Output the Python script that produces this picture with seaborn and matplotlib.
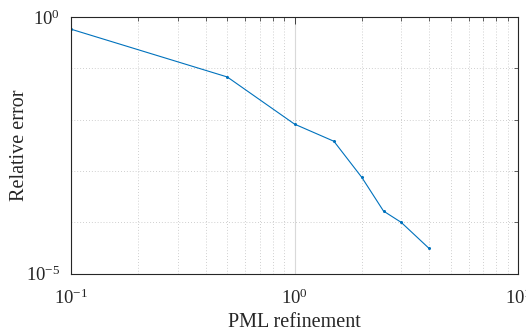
import matplotlib
matplotlib.use("Agg")
import matplotlib.pyplot as plt
import matplotlib.ticker as mticker
import pandas as pd
import seaborn as sns

# PML refinement vs relative error
refinement = [0.1, 0.5, 1.0, 1.5, 2.0, 2.5, 3.0, 4.0]
rel_error = [0.58, 0.068, 0.0082, 0.0038, 7.5e-4, 1.66e-4, 1.0e-4, 3.1e-5]

df = pd.DataFrame({"refinement": refinement, "error": rel_error})

sns.set_style("white")
plt.rcParams["font.family"] = ["Liberation Serif", "DejaVu Serif"]
plt.rcParams["mathtext.fontset"] = "stix"

fig = plt.figure(figsize=(5.26, 3.34), dpi=100)
ax = fig.add_axes([0.135, 0.1805, 0.85, 0.7685])

sns.lineplot(data=df, x="refinement", y="error", ax=ax, color="#0072BD",
             linewidth=0.8, marker="o", markersize=2.2, markeredgewidth=0)

ax.set_xscale("log")
ax.set_yscale("log")
ax.set_xlim(0.1, 10)
ax.set_ylim(1e-5, 1e0)

ax.xaxis.set_major_locator(mticker.FixedLocator([0.1, 1, 10]))
ax.xaxis.set_minor_locator(mticker.LogLocator(base=10, subs=range(2, 10)))
ax.yaxis.set_major_locator(mticker.FixedLocator([1e-5, 1e0]))
ax.yaxis.set_minor_locator(mticker.FixedLocator([1e-4, 1e-3, 1e-2, 1e-1]))
ax.xaxis.set_major_formatter(mticker.LogFormatterMathtext())
ax.yaxis.set_major_formatter(mticker.LogFormatterMathtext())
ax.xaxis.set_minor_formatter(mticker.NullFormatter())
ax.yaxis.set_minor_formatter(mticker.NullFormatter())

ax.grid(True, which="major", axis="x", color="#d9d9d9", linewidth=0.8, linestyle="-")
ax.grid(True, which="minor", color="#c0c0c0", linewidth=0.6, linestyle=(0, (1, 2.5)))

ax.tick_params(which="both", direction="in", top=True, right=True,
               labelsize=13.5, colors="#262626")
ax.tick_params(which="major", length=5, width=0.6)
ax.tick_params(which="minor", length=3, width=0.5)
ax.tick_params(axis="x", which="major", pad=11)
ax.tick_params(axis="y", which="major", pad=8)

for s in ax.spines.values():
    s.set_visible(True)
    s.set_color("#262626")
    s.set_linewidth(0.8)

ax.set_xlabel("PML refinement", fontsize=14.5, color="#262626")
ax.set_ylabel("Relative error", fontsize=14.5, color="#262626")
ax.xaxis.set_label_coords(0.5, -0.153)
ax.yaxis.set_label_coords(-0.094, 0.5)

fig.savefig("out.png", dpi=100)
